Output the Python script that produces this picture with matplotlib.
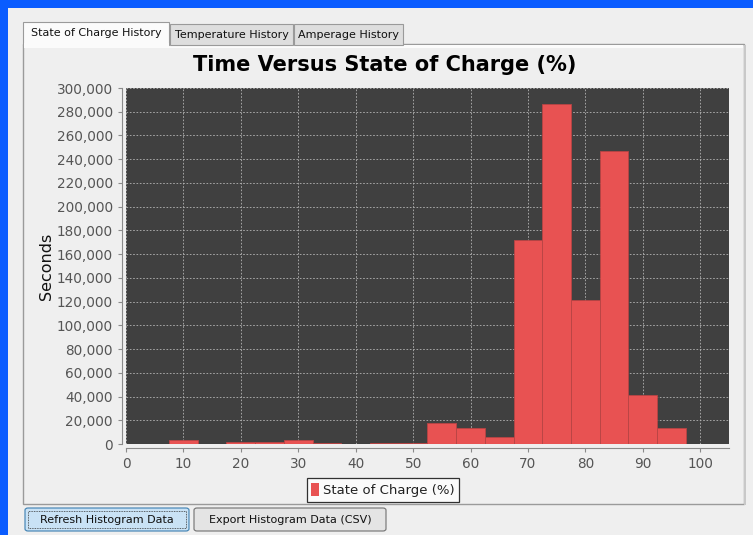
import matplotlib
matplotlib.use("Agg")
import matplotlib.pyplot as plt
from matplotlib.patches import Rectangle, FancyBboxPatch
from matplotlib.ticker import FuncFormatter, MultipleLocator

W, H = 753, 535

bin_centers = [10, 15, 20, 25, 30, 35, 40, 45, 50, 55, 60, 65, 70, 75, 80, 85, 90, 95]
seconds = [3400, 300, 2000, 1800, 3200, 500, 300, 1100, 700, 17500, 13600, 5600,
           171500, 286500, 121000, 247000, 41500, 13200]
bin_width = 5

tab_labels = ["State of Charge History", "Temperature History", "Amperage History"]
button_labels = ["Refresh Histogram Data", "Export Histogram Data (CSV)"]

plt.rcParams["font.family"] = ["DejaVu Sans"]

fig = plt.figure(figsize=(W / 100, H / 100), dpi=100, facecolor="#efefef")


def px_rect(x, y, w, h, z=0, **kw):
    r = Rectangle((x / W, 1 - (y + h) / H), w / W, h / H, transform=fig.transFigure,
                  zorder=z, **kw)
    fig.add_artist(r)
    return r


def px_text(x, y, s, **kw):
    fig.text(x / W, 1 - y / H, s, **kw)


# window frame
px_rect(0, 0, W, 8, facecolor="#0a5cff", edgecolor="none")
px_rect(0, 0, 8, H, facecolor="#0a5cff", edgecolor="none")

# tab content panel
px_rect(23, 44, 721, 460, facecolor="#efefef", edgecolor="#9a9a9a", lw=1)
px_rect(744, 45, 2, 460, facecolor="#c8c8c8", edgecolor="none")
px_rect(24, 45, 719, 3, facecolor="#fbfbfb", edgecolor="none")

# tabs
tab_x = [(23, 146, 22), (170, 123, 24), (294, 109, 24)]
for i, (lbl, (tx, tw, ty)) in enumerate(zip(tab_labels, tab_x)):
    fc = "#fbfbfb" if i == 0 else "#dedede"
    px_rect(tx, ty, tw, 45 - ty, facecolor=fc, edgecolor="#9a9a9a", lw=0.8)
    px_text(tx + tw / 2, 33.5 if i == 0 else 35, lbl, ha="center", va="center",
            fontsize=8, color="#111111")
px_rect(24, 43, 145, 4, facecolor="#fbfbfb", edgecolor="none")

# buttons
bx = [(25, 164), (194, 192)]
for i, (lbl, (x0, bw)) in enumerate(zip(button_labels, bx)):
    fc = "#c9e2f5" if i == 0 else "#e4e4e4"
    ec = "#3c7fb1" if i == 0 else "#707070"
    b = FancyBboxPatch((x0 / W, 1 - 531 / H), bw / W, 23 / H,
                       boxstyle="round,pad=0,rounding_size=0.004",
                       transform=fig.transFigure, facecolor=fc, edgecolor=ec, lw=0.8)
    fig.add_artist(b)
    if i == 0:
        px_rect(x0 + 3, 511, bw - 6, 17, z=2, facecolor="none", edgecolor="#333333",
                lw=0.6, linestyle=(0, (1, 1)))
    px_text(x0 + bw / 2, 520, lbl, ha="center", va="center", fontsize=8, color="#111111")

# chart
ax = fig.add_axes([126 / W, 1 - 444 / H, (729 - 126) / W, (444 - 88) / H])
ax.set_zorder(5)
ax.set_facecolor("#404040")
ax.bar(bin_centers, seconds, width=bin_width, color="#e85252", edgecolor="#b84444",
       lw=0.6, zorder=3, label="State of Charge (%)")
ax.set_xlim(0, 105)
ax.set_ylim(0, 300000)
ax.xaxis.set_major_locator(MultipleLocator(10))
ax.yaxis.set_major_locator(MultipleLocator(20000))
ax.yaxis.set_major_formatter(FuncFormatter(lambda v, p: f"{int(v):,}"))
ax.grid(True, color="#b4b4b4", lw=0.6, linestyle=(0, (2, 2)), zorder=1)
for s in ["top", "right"]:
    ax.spines[s].set_visible(False)
for s in ["left", "bottom"]:
    ax.spines[s].set_position(("outward", 3))
    ax.spines[s].set_color("#8a8a8a")
ax.tick_params(colors="#8a8a8a", labelcolor="#555555", labelsize=9.8, length=3, width=0.8)
ax.set_ylabel("Seconds", fontsize=11.5, color="#111111", labelpad=2)

fig.text(385 / W, 1 - 65 / H, "Time Versus State of Charge (%)", ha="center", va="center",
         fontsize=15, fontweight="bold", color="#000000")

leg = fig.legend(loc="center", bbox_to_anchor=(383 / W, 1 - 490 / H), frameon=True,
                 fancybox=False, edgecolor="#000000", fontsize=9.5, handlelength=0.6,
                 handleheight=1.2, handletextpad=0.3, borderpad=0.35, labelcolor="#222222")
leg.set_zorder(6)
leg.get_frame().set_linewidth(0.9)
leg.get_frame().set_facecolor("#ffffff")
for h in leg.legend_handles:
    h.set_edgecolor("none")

fig.savefig("out.png", dpi=100, facecolor=fig.get_facecolor())
